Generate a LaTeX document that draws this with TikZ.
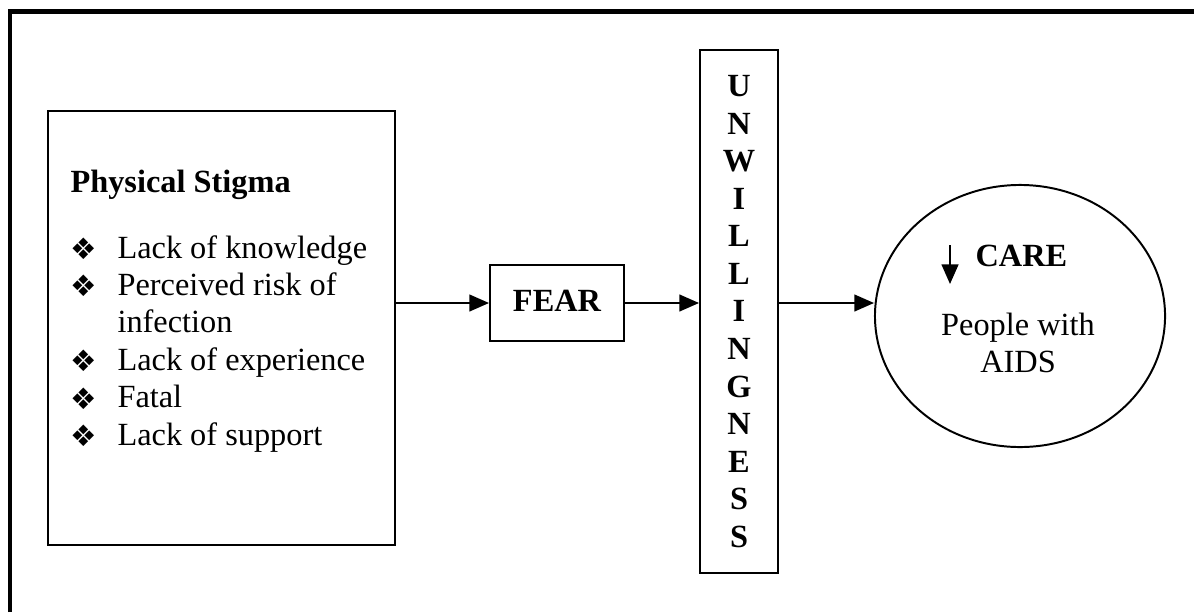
\documentclass[tikz,border=0pt]{standalone}
\usepackage{fontspec}
\setmainfont{Liberation Serif}
\newfontfamily\dingfont{DejaVu Sans}
\usepackage{tikz}
\usetikzlibrary{arrows.meta,shapes,shapes.geometric,calc,positioning}
\tikzset{box/.style={draw,rectangle,line width=0.7pt,inner sep=0pt}}
\tikzset{frame/.style={line width=1.6pt}}
\newcommand{\bul}{\raisebox{-0.5pt}{\dingfont\fontsize{10.5}{10.5}\selectfont ❖}}

\begin{document}
\begin{tikzpicture}[>={Triangle[length=7pt,width=6pt]}, x=0.0125cm, y=-0.0125cm, font=\fontsize{11.5}{13.3}\selectfont]
\useasboundingbox (0,0) rectangle (1194,612);
\draw[frame] (10,612) -- (10,11.5) -- (1194,11.5);
\node[box, minimum width=4.3375cm, minimum height=5.425cm] (stigma) at (221.5,328) {};
\node[anchor=base west, inner sep=0pt, font=\fontsize{11.5}{13.3}\selectfont\bfseries] (title) at (70,192) {Physical Stigma};
\node[anchor=base west, inner sep=0pt] (items) at (70,258) {\begin{tabular}[t]{@{}p{16.7pt}@{}l@{}}
\bul & Lack of knowledge\\
\bul & Perceived risk of\\
     & infection\\
\bul & Lack of experience\\
\bul & Fatal\\
\bul & Lack of support
\end{tabular}};
\node[box, minimum width=1.675cm, minimum height=0.95cm, font=\fontsize{11.5}{13.3}\selectfont\bfseries] (fear) at (557,303) {\raisebox{1.5pt}{FEAR}};
\node[box, minimum width=0.975cm, minimum height=6.5375cm, align=center, font=\fontsize{11.5}{13.35}\selectfont\bfseries] (unwill) at (739,311.5) {U\\N\\W\\I\\L\\L\\I\\N\\G\\N\\E\\S\\S};
\node[draw, ellipse, line width=0.7pt, minimum width=3.625cm, minimum height=3.275cm] (aids) at (1020,316) {};
\node[anchor=base west, inner sep=0pt, font=\fontsize{11.5}{13.3}\selectfont\bfseries] (care) at (975,266) {CARE};
\node[align=center, inner sep=0pt] (people) at (1018,343) {People with\\AIDS};
\coordinate (dntop) at (950,245);
\coordinate (dnend) at (950,284);
\draw[->, line width=0.7pt] (dntop) -- (dnend);
\path[->, line width=0.6pt] (stigma.east |- fear) edge (fear.west)
	(fear.east) edge (unwill.west |- fear)
	(unwill.east |- fear) edge (aids.west |- fear);
\end{tikzpicture}
\end{document}
